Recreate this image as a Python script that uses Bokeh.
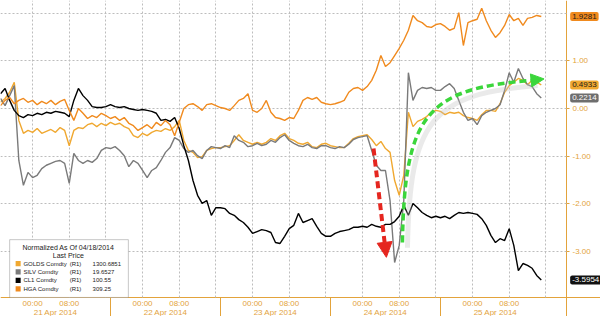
import numpy as np
from bokeh.plotting import figure
from bokeh.models import (Range1d, FixedTicker, Label, BoxAnnotation, Arrow,
                          NormalHead, NumeralTickFormatter, LinearAxis)
from bokeh.embed import file_html
from bokeh.resources import INLINE

# ---------------- data (hours since session start, normalized values) -------------
hours = list(range(119))

golds = [0.13, 0.21, 0.34, 0.55, -0.25, -0.52, -0.46, -0.50, -0.42, -0.52,
         -0.48, -0.44, -0.50, -0.40, -0.46, -0.78, -0.46, -0.40, -0.42, -0.34,
         -0.31, -0.38, -0.31, -0.36, -0.29, -0.34, -0.31, -0.38, -0.42, -0.57,
         -0.61, -0.52, -0.57, -0.50, -0.46, -0.48, -0.42, -0.46, -0.38, -0.25,
         -0.67, -0.88, -0.92, -1.03, -1.01, -0.88, -0.84, -0.82, -0.82, -0.80,
         -0.78, -0.67, -0.55, -0.67, -0.71, -0.75, -0.71, -0.75, -0.71, -0.63,
         -0.67, -0.57, -0.52, -0.63, -0.67, -0.73, -0.75, -0.71, -0.80, -0.82,
         -0.75, -0.73, -0.78, -0.80, -0.82, -0.82, -0.73, -0.63, -0.59, -0.57,
         -0.55, -0.65, -0.78, -0.69, -0.84, -0.92, -1.51, -1.82, -1.40, -0.08,
         -0.38, -0.27, -0.23, -0.17, -0.08, -0.04, -0.06, -0.13, -0.08, -0.10,
         -0.08, -0.15, -0.19, -0.21, -0.25, -0.13, -0.04, -0.04, -0.06, 0.10,
         0.34, 0.48, 0.55, 0.63, 0.59, 0.50, 0.59, 0.55, 0.4933]

silv = [0.21, 0.06, 0.27, 0.48, -1.09, -1.61, -1.34, -1.45, -1.40, -1.26,
        -1.19, -1.15, -1.11, -1.09, -1.15, -1.57, -0.94, -1.09, -1.15, -1.09,
        -1.13, -1.05, -0.88, -0.82, -0.84, -0.80, -0.88, -0.99, -1.22, -1.09,
        -1.15, -1.30, -1.45, -1.30, -1.24, -1.09, -0.92, -0.82, -0.61, -0.67,
        -0.84, -0.92, -0.88, -0.99, -1.05, -0.88, -0.80, -0.82, -0.84, -0.78,
        -0.82, -0.57, -0.67, -0.71, -0.80, -0.78, -0.73, -0.78, -0.75, -0.67,
        -0.71, -0.61, -0.55, -0.67, -0.73, -0.78, -0.80, -0.75, -0.82, -0.84,
        -0.78, -0.78, -0.82, -0.84, -0.80, -0.82, -0.75, -0.65, -0.61, -0.59,
        -0.57, -0.88, -1.19, -1.30, -1.30, -1.93, -3.23, -2.87, -1.93, 0.75,
        0.17, 0.38, 0.44, 0.42, 0.44, 0.38, 0.38, 0.46, 0.52, 0.42,
        0.17, -0.08, -0.25, -0.21, -0.34, -0.15, -0.08, -0.04, 0.00, 0.08,
        0.38, 0.75, 0.55, 0.84, 0.63, 0.50, 0.46, 0.31, 0.2214]

cl1 = [0.31, 0.42, 0.17, -0.04, -0.15, -0.19, -0.13, -0.15, -0.10, -0.13,
       -0.08, -0.10, -0.06, -0.08, -0.10, -0.17, 0.17, 0.42, 0.27, 0.17,
       0.04, 0.02, 0.02, 0.04, 0.08, 0.04, 0.02, 0.04, 0.00, -0.02,
       -0.04, -0.02, -0.04, -0.06, -0.10, -0.25, -0.23, -0.27, -0.19, -0.42,
       -0.78, -1.09, -1.51, -1.82, -1.99, -1.93, -2.24, -2.08, -2.08, -2.10,
       -2.20, -2.24, -2.33, -2.39, -2.49, -2.62, -2.58, -2.54, -2.56, -2.60,
       -2.81, -2.83, -2.68, -2.52, -2.45, -2.20, -2.39, -2.35, -2.31, -2.47,
       -2.62, -2.68, -2.68, -2.62, -2.58, -2.56, -2.54, -2.49, -2.49, -2.47,
       -2.49, -2.43, -2.47, -2.49, -2.43, -2.43, -2.37, -2.26, -2.03, -2.24,
       -1.99, -2.08, -2.18, -2.24, -2.29, -2.26, -2.29, -2.26, -2.31, -2.24,
       -2.18, -2.20, -2.18, -2.20, -2.22, -2.31, -2.45, -2.66, -2.81, -2.73,
       -2.77, -2.52, -2.87, -3.40, -3.25, -3.29, -3.35, -3.50, -3.5954]

hga = [0.06, 0.17, 0.23, 0.10, 0.17, 0.21, 0.13, 0.17, 0.08, 0.15,
       0.10, 0.17, 0.08, 0.15, 0.19, -0.04, -0.25, 0.00, -0.10, -0.21,
       -0.15, -0.19, -0.10, -0.15, -0.21, -0.17, -0.25, -0.19, -0.31, -0.36,
       -0.46, -0.40, -0.34, -0.42, -0.29, -0.36, -0.25, -0.34, -0.57, -0.29,
       0.00, 0.08, 0.10, 0.04, -0.04, 0.08, 0.10, 0.06, 0.02, 0.00,
       -0.04, 0.06, 0.17, 0.21, 0.31, -0.04, -0.08, 0.00, 0.17, -0.08,
       -0.19, -0.21, -0.25, -0.19, -0.21, -0.04, 0.17, 0.23, 0.19, 0.23,
       0.13, 0.10, 0.08, 0.10, 0.13, 0.17, 0.34, 0.42, 0.44, 0.38,
       0.46, 0.59, 0.80, 1.11, 0.88, 0.96, 1.11, 1.26, 1.43, 1.64,
       1.95, 1.84, 1.80, 1.72, 1.70, 1.76, 1.78, 1.72, 1.64, 1.68,
       2.01, 1.32, 1.80, 1.84, 1.87, 2.10, 1.84, 1.64, 1.49, 1.59,
       1.74, 1.97, 1.84, 1.89, 1.74, 1.89, 1.91, 1.95, 1.9281]

series_names = ["GOLDS Comdty", "SILV Comdty", "CL1 Comdty", "HGA Comdty"]
last_prices = ["1300.6851", "19.6527", "100.55", "309.25"]
day_labels = ["21 Apr 2014", "22 Apr 2014", "23 Apr 2014", "24 Apr 2014", "25 Apr 2014"]
hour_labels = ["00:00", "08:00"]
y_ticks = [-3, -2, -1, 0, 1]
grid_y = [-3, -2, -1, 0, 1, 2]

# ---------------- styling ----------------
C_GOLDS = "#F0A830"
C_SILV = "#7a7a7a"
C_CL1 = "#000000"
C_HGA = "#F08A1E"
AX = "#E3A33B"
GRID = "#bdbdbd"
FONT = "Liberation Sans"

day_starts = [0, 24, 48, 72, 96]
X_AXIS_AT = 123.5      # hours: location of the value axis (right edge of plot area)
Y_AXIS_AT = -3.962     # value: location of the time axis (bottom of plot area)
X_END = 130.92
Y_TOP, Y_BOT = 2.264, -4.361
PLOT_W_PX, PLOT_H_PX = 566, 297

p = figure(width=600, height=316, x_range=Range1d(0, X_END),
           y_range=Range1d(Y_BOT, Y_TOP), output_backend="svg",
           toolbar_location=None, y_axis_location="right",
           min_border_left=0, min_border_top=0, min_border_right=0,
           min_border_bottom=0)
p.outline_line_color = None
p.background_fill_color = "white"
p.border_fill_color = "white"
p.xgrid.visible = False
p.ygrid.visible = False

# right value axis; its minor ticks, drawn inward, form the dotted horizontal grid
ya = p.yaxis[0]
ya.level = "underlay"
ya.fixed_location = X_AXIS_AT
ya.ticker = FixedTicker(ticks=y_ticks, minor_ticks=grid_y)
ya.formatter = NumeralTickFormatter(format="0.00")
ya.axis_line_color = AX
ya.major_tick_line_color = AX
ya.major_tick_out = 3
ya.major_tick_in = 0
ya.minor_tick_line_color = GRID
ya.minor_tick_line_dash = "2 2"
ya.minor_tick_in = PLOT_W_PX
ya.minor_tick_out = 0
ya.major_label_text_color = AX
ya.major_label_text_font = FONT
ya.major_label_text_font_size = "8px"
ya.major_label_standoff = 3

# bottom time axis; its minor ticks, drawn inward, form the dotted vertical grid
xa = p.xaxis[0]
xa.level = "underlay"
xa.fixed_location = Y_AXIS_AT
hour_ticks = [d + 7 for d in day_starts] + [d + 15 for d in day_starts]
xa.ticker = FixedTicker(ticks=hour_ticks,
                        minor_ticks=[d + h for d in day_starts for h in (7, 15, 23)])
xa.major_label_overrides = {**{d + 7: hour_labels[0] for d in day_starts},
                            **{d + 15: hour_labels[1] for d in day_starts}}
xa.axis_line_color = AX
xa.major_tick_line_color = None
xa.major_tick_out = 0
xa.major_tick_in = 0
xa.minor_tick_line_color = GRID
xa.minor_tick_line_dash = "2 2"
xa.minor_tick_in = PLOT_H_PX
xa.minor_tick_out = 0
xa.major_label_text_color = AX
xa.major_label_text_font = FONT
xa.major_label_text_font_size = "8px"
xa.major_label_standoff = 2

# day separators (long ticks below the axis, no labels)
sep = LinearAxis(fixed_location=Y_AXIS_AT, level="underlay",
                 ticker=FixedTicker(ticks=[], minor_ticks=[24, 48, 72, 96]),
                 axis_line_color=None, major_tick_line_color=None,
                 minor_tick_line_color=AX, minor_tick_out=19, minor_tick_in=0)
p.add_layout(sep, "below")

# day labels
dax = LinearAxis(fixed_location=Y_AXIS_AT, level="underlay",
                 ticker=FixedTicker(ticks=[d + 12 for d in day_starts]),
                 major_label_overrides={d + 12: t for d, t in zip(day_starts, day_labels)},
                 axis_line_color=None, major_tick_line_color=None,
                 major_tick_out=0, major_tick_in=0, minor_tick_line_color=None,
                 major_label_text_color=AX, major_label_text_font=FONT,
                 major_label_text_font_size="8px", major_label_standoff=11)
p.add_layout(dax, "below")

# series
LW = 1.4
p.line(hours, golds, line_color=C_GOLDS, line_width=LW)
p.line(hours, silv, line_color=C_SILV, line_width=LW)
p.line(hours, cl1, line_color=C_CL1, line_width=LW)
p.line(hours, hga, line_color=C_HGA, line_width=LW)

# red dashed arrow
RED = "#E5261F"
p.add_layout(Arrow(end=NormalHead(size=15, fill_color=RED, line_color=RED),
                   x_start=81.4, y_start=-0.84, x_end=84.2, y_end=-3.12,
                   line_color=RED, line_width=4, line_dash="7 4"))

# green dashed curved arrow with soft shadow
GREEN = "#3BD63B"
p.bezier(x0=[88.8], y0=[-2.92], x1=[117.2], y1=[0.48], cx0=[89.3], cy0=[-0.26],
         cx1=[93.8], cy1=[0.31], line_color="#c4c4c4", line_alpha=0.35, line_width=5)
p.bezier(x0=[87.7], y0=[-2.81], x1=[116.1], y1=[0.59], cx0=[88.2], cy0=[-0.15],
         cx1=[92.7], cy1=[0.42], line_color=GREEN, line_width=3.5, line_dash="7 4")
p.add_layout(Arrow(end=NormalHead(size=13, fill_color=GREEN, line_color=GREEN),
                   x_start=115.0, y_start=0.58, x_end=118.6, y_end=0.62,
                   line_alpha=0))

# value tags on the right
for vals, bg, fg in ((hga, C_HGA, "#1a1a1a"), (golds, C_GOLDS, "#1a1a1a"),
                     (silv, "#6e6e6e", "white"), (cl1, "#111111", "white")):
    p.add_layout(Label(x=124.3, y=vals[-1], text=f"{vals[-1]:.4f}",
                       text_baseline="middle", text_color=fg, text_font=FONT,
                       text_font_size="8px", background_fill_color=bg,
                       background_fill_alpha=1.0, padding=2, border_radius=2))

# legend box
p.add_layout(BoxAnnotation(left=2.0, right=27.9, bottom=Y_AXIS_AT, top=-2.75,
                           fill_color="white", fill_alpha=1.0,
                           line_color="#444444", line_width=1))
p.add_layout(Label(x=14.8, y=-2.91, text="Normalized As Of 04/18/2014",
                   text_align="center", text_baseline="middle", text_color="#222222",
                   text_font=FONT, text_font_size="7px"))
p.add_layout(Label(x=14.8, y=-3.08, text="Last Price", text_align="center",
                   text_baseline="middle", text_color="#222222", text_font=FONT,
                   text_font_size="7px"))
for i, (nm, lp, col) in enumerate(zip(series_names, last_prices,
                                      [C_GOLDS, C_SILV, C_CL1, C_HGA])):
    yy = -3.25 - 0.178 * i
    p.add_layout(BoxAnnotation(left=3.3, right=4.4, bottom=yy - 0.055, top=yy + 0.055,
                               fill_color=col, fill_alpha=1.0, line_color=None))
    for xx, txt in ((5.0, nm), (15.1, "(R1)"), (20.1, lp)):
        p.add_layout(Label(x=xx, y=yy, text=txt, text_baseline="middle",
                           text_color="#222222", text_font=FONT,
                           text_font_size="6px"))

open("out.html", "w").write(file_html(p, INLINE))
